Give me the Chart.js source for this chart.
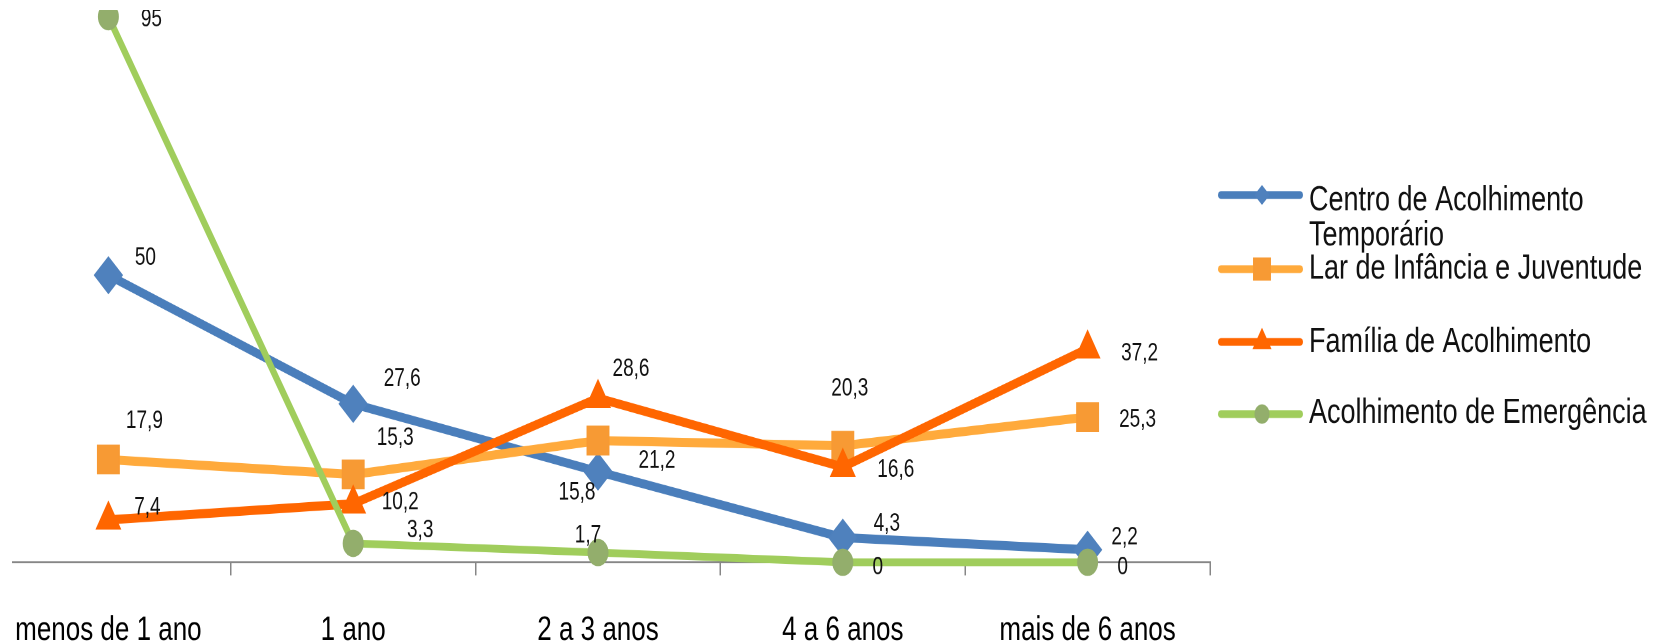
<!DOCTYPE html>
<html><head><meta charset="utf-8">
<script src="https://cdn.jsdelivr.net/npm/chart.js@4"></script>
<style>
html,body{margin:0;padding:0;background:#fff;width:1670px;height:644px;overflow:hidden;}
#wrap{position:absolute;left:12px;top:10px;width:1658px;height:634px;overflow:hidden;background:#fff;}
#c{position:absolute;left:-26px;top:-22px;width:1684px;height:537px;transform:scaleY(1.3);transform-origin:0 0;}
</style></head><body>
<div id="wrap"><canvas id="c" width="1684" height="537"></canvas></div>
<script>
// ---- data ----
const categories = ['menos de 1 ano', '1 ano', '2 a 3 anos', '4 a 6 anos', 'mais de 6 anos'];
const seriesNames = ['Centro de Acolhimento Temporário', 'Lar de Infância e Juventude', 'Família de Acolhimento', 'Acolhimento de Emergência'];
const centroValues = [50, 27.6, 15.8, 4.3, 2.2];
const larValues = [17.9, 15.3, 21.2, 20.3, 25.3];
const familiaValues = [7.4, 10.2, 28.6, 16.6, 37.2];
const emergenciaValues = [95, 3.3, 1.7, 0, 0];

// ---- styling ----
const STRETCH = 1.3;
const FONT = "'Liberation Sans', Arial, sans-serif";
const styles = [
  {line: '#4A7EBB', marker: '#4F81BD', shape: 'rectRot', r: 14, w: 7, lr: 7},
  {line: '#FFAA3C', marker: '#F79A34', shape: 'rect', r: 15.5, w: 7, lr: 12},
  {line: '#FF6600', marker: '#FF6600', shape: 'triangle', r: 14, w: 7, lr: 10},
  {line: '#A0CD5C', marker: '#93AE6C', shape: 'circle', r: 10, w: 6, lr: 7}
];
// label offsets (dx, dy) from each marker, in page pixels
const labelOffsets = [
  [[37,-17],[49,-25],[-21,21],[44,-14],[37,-12]],
  [[36,-38],[42,-36],[59,20],[7,-57],[50,3]],
  [[39,-12],[47,-1],[33,-29],[53,3],[52,5]],
  [[43,3],[67,-13],[-10,-17],[35,5],[35,5]]
];
const legendRowY = [159.2, 216.2, 272.3, 327.7];
const legendBaseOff = [11.6, 7.5, 7.5, 7.0];

const valueSets = [centroValues, larValues, familiaValues, emergenciaValues];
const drawOrder = [4, 3, 2, 1];

const datasets = valueSets.map((vals, i) => ({
  label: seriesNames[i],
  data: vals,
  borderColor: styles[i].line,
  backgroundColor: styles[i].marker,
  borderWidth: styles[i].w,
  pointStyle: styles[i].shape,
  pointRadius: styles[i].r,
  pointBackgroundColor: styles[i].marker,
  pointBorderColor: styles[i].marker,
  pointBorderWidth: 1,
  tension: 0,
  order: drawOrder[i],
  clip: false
}));

const fmt = v => String(v).replace('.', ',');

const valueLabels = {
  id: 'valueLabels',
  afterDatasetsDraw(chart) {
    const ctx = chart.ctx;
    ctx.save();
    ctx.font = '19px ' + FONT;
    ctx.fillStyle = '#111';
    ctx.textAlign = 'center';
    ctx.textBaseline = 'middle';
    chart.data.datasets.forEach((ds, i) => {
      const meta = chart.getDatasetMeta(i);
      meta.data.forEach((pt, j) => {
        const off = labelOffsets[i][j];
        ctx.fillText(fmt(ds.data[j]), pt.x + off[0], pt.y + off[1] / STRETCH);
      });
    });
    ctx.restore();
  }
};

const customLegend = {
  id: 'customLegend',
  afterDraw(chart) {
    const ctx = chart.ctx;
    ctx.save();
    const x0 = 1235, x1 = 1314, xm = 1276, xt = 1323, maxW = 350;
    ctx.font = '27px ' + FONT;
    chart.data.datasets.forEach((ds, i) => {
      const y = legendRowY[i];
      ctx.strokeStyle = styles[i].line;
      ctx.lineWidth = 6;
      ctx.lineCap = 'round';
      ctx.beginPath(); ctx.moveTo(x0, y); ctx.lineTo(x1, y); ctx.stroke();
      ctx.fillStyle = styles[i].marker;
      ctx.strokeStyle = styles[i].marker;
      ctx.lineWidth = 1;
      Chart.helpers.drawPoint(ctx, {pointStyle: styles[i].shape, radius: styles[i].lr, rotation: 0, borderWidth: 1}, xm, y);
      const words = ds.label.split(' ');
      const lines = [];
      let cur = '';
      words.forEach(w => {
        const t = cur ? cur + ' ' + w : w;
        if (ctx.measureText(t).width > maxW && cur) { lines.push(cur); cur = w; } else cur = t;
      });
      if (cur) lines.push(cur);
      ctx.fillStyle = '#111';
      ctx.textAlign = 'left';
      ctx.textBaseline = 'alphabetic';
      lines.forEach((ln, k) => ctx.fillText(ln, xt, y + legendBaseOff[i] + k * 27));
    });
    ctx.restore();
  }
};

new Chart(document.getElementById('c'), {
  type: 'line',
  data: {labels: categories, datasets},
  options: {
    responsive: false,
    animation: false,
    devicePixelRatio: 2,
    layout: {autoPadding: false, padding: {left: 0, right: 460, top: 0, bottom: 0}},
    plugins: {legend: {display: false}, tooltip: {enabled: false}},
    scales: {
      y: {display: false, min: 0, max: 100},
      x: {
        offset: true,
        grid: {display: true, drawOnChartArea: false, drawTicks: true, tickLength: 10, color: '#868686', lineWidth: 1.5, offset: true},
        border: {display: true, color: '#868686', width: 1.5},
        ticks: {color: '#000', font: {family: FONT, size: 26}, padding: 27, autoSkip: false, maxRotation: 0}
      }
    }
  },
  plugins: [valueLabels, customLegend]
});
</script>
</body></html>
